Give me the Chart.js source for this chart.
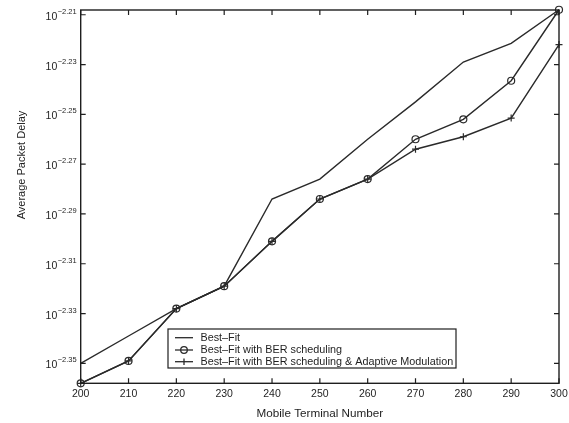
<!DOCTYPE html>
<html><head><meta charset="utf-8">
<script src="https://cdn.jsdelivr.net/npm/chart.js@4/dist/chart.umd.min.js"></script>
<style>html,body{margin:0;padding:0;background:#fff}#wrap{width:569px;height:423px}</style>
</head><body><div id="wrap"><canvas id="c" width="569" height="423"></canvas></div>
<script>
// Mobile terminal numbers (x axis)
const terminals = [200, 210, 220, 230, 240, 250, 260, 270, 280, 290, 300];
const bestFitExp = [-2.350, -2.339, -2.328, -2.319, -2.284, -2.276, -2.260, -2.245, -2.229, -2.2215, -2.208];
const berExp     = [-2.358, -2.349, -2.328, -2.319, -2.301, -2.284, -2.276, -2.260, -2.252, -2.2365, -2.208];
const berAmExp   = [-2.358, -2.349, -2.328, -2.319, -2.301, -2.284, -2.276, -2.264, -2.259, -2.2515, -2.222];
const yTickExps  = [-2.21, -2.23, -2.25, -2.27, -2.29, -2.31, -2.33, -2.35];
const yTickLabels = ['−2.21', '−2.23', '−2.25', '−2.27', '−2.29', '−2.31', '−2.33', '−2.35'];
const xTicks = [200, 210, 220, 230, 240, 250, 260, 270, 280, 290, 300];
const yRangeExp = [-2.358, -2.2081];
const seriesLabels = ['Best–Fit', 'Best–Fit with BER scheduling', 'Best–Fit with BER scheduling & Adaptive Modulation'];
const xTitle = 'Mobile Terminal Number';
const yTitle = 'Average Packet Delay';

const INK = '#1e1e1e';
const LINE = '#2a2a2a';
const FONT = '"Liberation Sans", Arial, Helvetica, sans-serif';
const toPts = exps => terminals.map((t, i) => ({ x: t, y: Math.pow(10, exps[i]) }));

const framePlugin = {
  id: 'frame',
  afterDatasetsDraw(chart) {
    const { ctx, chartArea: a, scales: { x, y } } = chart;
    ctx.save();
    ctx.strokeStyle = INK;
    ctx.lineWidth = 1.4;
    ctx.strokeRect(a.left, a.top, a.right - a.left, a.bottom - a.top);
    const tl = 5;
    ctx.lineWidth = 1.2;
    ctx.beginPath();
    xTicks.forEach(v => {
      const px = x.getPixelForValue(v);
      ctx.moveTo(px, a.bottom); ctx.lineTo(px, a.bottom - tl);
      ctx.moveTo(px, a.top); ctx.lineTo(px, a.top + tl);
    });
    yTickExps.forEach(e => {
      const py = y.getPixelForValue(Math.pow(10, e));
      ctx.moveTo(a.left, py); ctx.lineTo(a.left + tl, py);
      ctx.moveTo(a.right, py); ctx.lineTo(a.right - tl, py);
    });
    ctx.stroke();

    // x tick labels
    ctx.fillStyle = INK;
    ctx.font = '10.5px ' + FONT;
    ctx.textAlign = 'center';
    ctx.textBaseline = 'middle';
    xTicks.forEach(v => ctx.fillText(String(v), x.getPixelForValue(v), a.bottom + 11));

    // y tick labels: 10 with superscript exponent
    yTickExps.forEach((e, i) => {
      const py = y.getPixelForValue(Math.pow(10, e));
      const rightEdge = a.left - 4;
      ctx.font = '7.5px ' + FONT;
      ctx.textAlign = 'right';
      ctx.textBaseline = 'alphabetic';
      const ws = ctx.measureText(yTickLabels[i]).width;
      ctx.fillText(yTickLabels[i], rightEdge, py - 1);
      ctx.font = '10.5px ' + FONT;
      ctx.fillText('10', rightEdge - ws - 0.5, py + 5);
    });

    // axis titles
    ctx.font = '11.7px ' + FONT;
    ctx.textAlign = 'center';
    ctx.textBaseline = 'middle';
    ctx.fillText(xTitle, (a.left + a.right) / 2, 414);
    ctx.save();
    ctx.translate(22, 165);
    ctx.rotate(-Math.PI / 2);
    ctx.font = '11px ' + FONT;
    ctx.fillText(yTitle, 0, 0);
    ctx.restore();

    // legend box
    const bx = 168, by = 329, bw = 288, bh = 39;
    ctx.fillStyle = '#fff';
    ctx.fillRect(bx, by, bw, bh);
    ctx.strokeStyle = INK;
    ctx.lineWidth = 1.2;
    ctx.strokeRect(bx, by, bw, bh);
    const rows = [337.7, 350, 361.7];
    chart.data.datasets.forEach((ds, i) => {
      const ry = rows[i];
      ctx.strokeStyle = LINE;
      ctx.lineWidth = 1.3;
      ctx.beginPath(); ctx.moveTo(175, ry); ctx.lineTo(193, ry); ctx.stroke();
      if (ds.pointStyle === 'circle') {
        ctx.beginPath(); ctx.arc(184, ry, 3.3, 0, Math.PI * 2); ctx.stroke();
      } else if (ds.pointStyle === 'cross') {
        ctx.beginPath(); ctx.moveTo(184, ry - 3.3); ctx.lineTo(184, ry + 3.3); ctx.stroke();
      }
      ctx.fillStyle = INK;
      ctx.font = '10.8px ' + FONT;
      ctx.textAlign = 'left';
      ctx.textBaseline = 'middle';
      ctx.fillText(ds.label, 200.5, ry);
    });
    ctx.restore();
  }
};

new Chart(document.getElementById('c'), {
  type: 'line',
  data: {
    datasets: [
      { label: seriesLabels[0], data: toPts(bestFitExp), borderColor: LINE, borderWidth: 1.4, pointRadius: 0, pointStyle: false, clip: false },
      { label: seriesLabels[1], data: toPts(berExp), borderColor: LINE, borderWidth: 1.4, pointStyle: 'circle', pointRadius: 3.5, pointBorderWidth: 1.2, pointBorderColor: LINE, pointBackgroundColor: 'rgba(0,0,0,0)', clip: false },
      { label: seriesLabels[2], data: toPts(berAmExp), borderColor: LINE, borderWidth: 1.4, pointStyle: 'cross', pointRadius: 3.5, pointBorderWidth: 1.2, pointBorderColor: LINE, clip: false }
    ]
  },
  options: {
    responsive: false,
    devicePixelRatio: 1,
    animation: false,
    layout: { padding: { top: 10, right: 10, left: 0, bottom: 0 } },
    plugins: { legend: { display: false }, tooltip: { enabled: false } },
    elements: { line: { tension: 0 } },
    scales: {
      x: {
        type: 'linear', min: 200, max: 300,
        grid: { display: false }, border: { display: false },
        ticks: { display: false, stepSize: 10 },
        afterFit(s) { s.height = 39.7; }
      },
      y: {
        type: 'logarithmic', min: Math.pow(10, yRangeExp[0]), max: Math.pow(10, yRangeExp[1]),
        grid: { display: false }, border: { display: false },
        ticks: { display: false },
        afterBuildTicks(s) { s.ticks = yTickExps.map(e => ({ value: Math.pow(10, e) })); },
        afterFit(s) { s.width = 80.7; }
      }
    }
  },
  plugins: [framePlugin]
});
</script>
</body></html>
